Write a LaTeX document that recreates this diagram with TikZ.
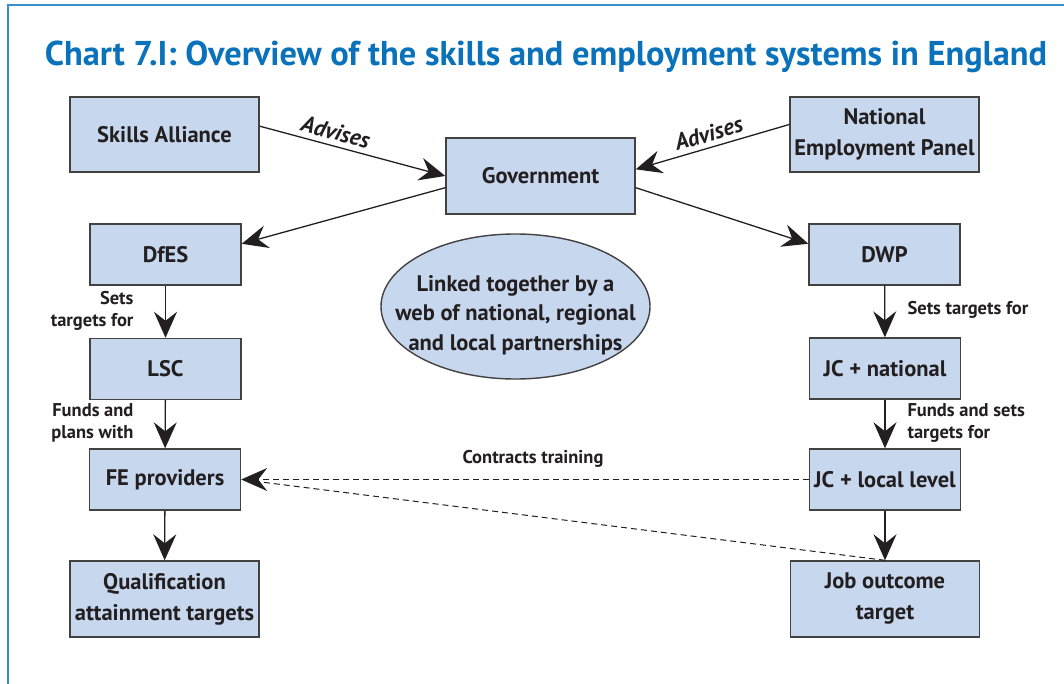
\documentclass[tikz,border=0pt]{standalone}
\usepackage{fontspec}
\setmainfont{PT Sans}
\usepackage{tikz}
\usetikzlibrary{arrows.meta,shapes.geometric}
\usepackage{xcolor}
\definecolor{boxblue}{HTML}{C6D7EE}
\definecolor{titleblue}{HTML}{0A72BA}
\definecolor{frameblue}{HTML}{3A8FD0}
\definecolor{ink}{HTML}{231F20}

\begin{document}
\begin{tikzpicture}[x=1pt,y=-1pt,
  box/.style={draw=ink!85,line width=1.4pt,fill=boxblue,inner sep=0pt,align=center,
    font=\fontsize{22.5}{31}\selectfont\bfseries,text=ink},
  lbl/.style={font=\fontsize{18.5}{22.5}\selectfont\bfseries,text=ink},
  adv/.style={font=\fontsize{23}{26}\selectfont\bfseries\itshape,text=ink,inner sep=5pt},
  arr/.style={draw=ink,line width=1.3pt,-{Stealth[length=26pt,width=23pt,inset=9pt]}},
  dashline/.style={draw=ink,line width=1pt,dash pattern=on 6pt off 4pt}]
\useasboundingbox (0,0) rectangle (1064,684);
\draw[frameblue,line width=1.5pt] (8,684) -- (8,5) -- (1064,5);
\node[font=\fontsize{34.4}{40}\selectfont\bfseries,text=titleblue] (title) at (546,57)
  {Chart 7.I: Overview of the skills and employment systems in England};

\node[box,minimum width=189,minimum height=75] (skills) at (164.5,134.5) {Skills Alliance};
\node[box,minimum width=189,minimum height=75] (nep) at (884.5,134.5) {National\\Employment Panel};
\node[box,minimum width=189,minimum height=76] (gov) at (540.5,176) {Government};
\node[box,minimum width=151,minimum height=61] (dfes) at (165.5,254.5) {DfES};
\node[box,minimum width=151,minimum height=61] (lsc) at (165.5,369) {LSC};
\node[box,minimum width=151,minimum height=61] (fe) at (165,479.5) {FE providers};
\node[box,minimum width=189,minimum height=76] (qual) at (164.5,599) {Qualification\\attainment targets};
\node[box,minimum width=151,minimum height=61] (dwp) at (884.5,254.5) {DWP};
\node[box,minimum width=151,minimum height=61] (jcnat) at (885,368.5) {JC + national};
\node[box,minimum width=151,minimum height=61] (jcloc) at (885,479.5) {JC + local level};
\node[box,minimum width=189,minimum height=76] (job) at (885,599) {Job outcome\\target};
\node[box,ellipse,minimum width=269,minimum height=145] (web) at (515.5,306.5) {};
\node[box,draw=none,fill=none,font=\fontsize{22.5}{29.5}\selectfont\bfseries] (webtxt) at (515.5,315)
  {Linked together by a\\web of national, regional\\and local partnerships};

\draw[arr] (skills.5) -- node[adv,pos=0.39,above,sloped] {Advises} (gov.west);
\draw[arr] (nep.174) -- node[adv,pos=0.5,above,sloped] {Advises} (gov.4);
\draw[arr] (gov.187) -- (dfes.8);
\draw[arr] (gov.-7) -- (dwp.172);
\draw[arr] (dfes) -- (lsc);
\draw[arr] (lsc) -- (fe);
\draw[arr] (fe) -- (qual);
\draw[arr] (dwp) -- (jcnat);
\draw[arr] (jcnat) -- (jcloc);
\draw[arr] (jcloc) -- (job);
\draw[dashline] (job.north) -- (fe.east);
\draw[dashline,-{Stealth[length=26pt,width=23pt,inset=9pt]}] (jcloc.west) -- (fe.east);

\node[lbl,align=right,anchor=east] (l1) at (137,311) {Sets\\targets for};
\node[lbl,align=right,anchor=east] (l2) at (137,423) {Funds and\\plans with};
\node[lbl,anchor=west] (r1) at (904,310) {Sets targets for};
\node[lbl,align=left,anchor=west] (r2) at (904,423) {Funds and sets\\targets for};
\node[lbl] (ct) at (533,459) {Contracts training};
\end{tikzpicture}
\end{document}
